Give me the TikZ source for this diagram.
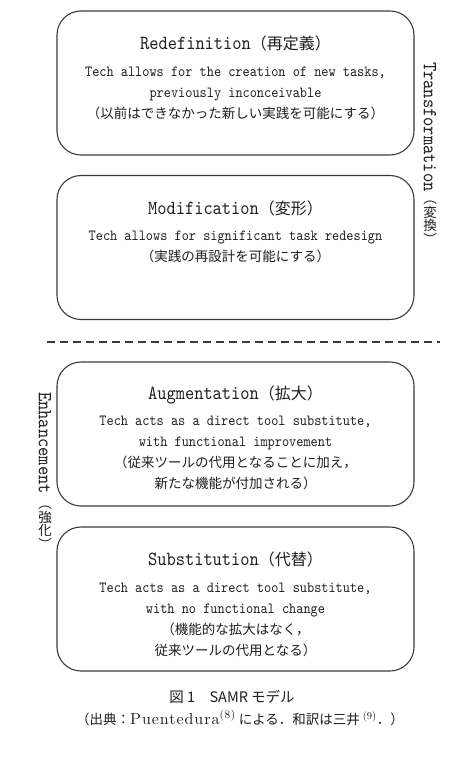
\documentclass[tikz,border=0pt]{standalone}
\usepackage{fontspec}
\newfontfamily\jp{Noto Sans CJK JP}
\newfontfamily\mono{lmmono10-regular.otf}[FakeStretch=0.88]
\newfontfamily\wideserif{lmroman10-regular.otf}[LetterSpace=6]
\usepackage{tikz}
\usetikzlibrary{positioning}
\definecolor{BoxLine}{HTML}{3A3A3A}
\definecolor{InkGray}{HTML}{1E1E1E}

\begin{document}
\begin{tikzpicture}[
  x=1pt, y=-1pt,
  every node/.style={text=InkGray},
  stage/.style={draw=BoxLine, line width=1.1pt, rounded corners=24pt,
    minimum width=357pt, minimum height=144pt, inner sep=0pt},
  stagetitle/.style={font=\fontsize{20}{22}\selectfont\mono, inner sep=0pt},
  stagebody/.style={font=\fontsize{15.5}{21}\selectfont\mono, align=center,
    inner sep=0pt, anchor=north},
  sidelabel/.style={font=\fontsize{20}{20}\selectfont\mono, rotate=-90,
    anchor=west, inner sep=0pt},
  sidejp/.style={font=\fontsize{13.5}{13.5}\selectfont\jp, align=center,
    anchor=north, inner sep=0pt},
  caption/.style={font=\fontsize{14.5}{16}\selectfont\jp, inner sep=0pt},
]
\useasboundingbox (0,0) rectangle (466,762);

% Boxes
\foreach \nm/\y in {redef/83, modif/247.5, augm/434, subst/599}
  \node[stage] (\nm) at (235.5,\y) {};

% Titles
\node[stagetitle] (redeftitle) at ([yshift=-33pt]redef.north)
  {Redefinition{\fontsize{16}{18}\selectfont\jp（再定義）}};
\node[stagetitle] (modiftitle) at ([yshift=-33pt]modif.north)
  {Modification{\fontsize{16}{18}\selectfont\jp（変形）}};
\node[stagetitle] (augmtitle) at ([yshift=-33pt]augm.north)
  {Augmentation{\fontsize{16}{18}\selectfont\jp（拡大）}};
\node[stagetitle] (substtitle) at ([yshift=-33pt]subst.north)
  {Substitution{\fontsize{16}{18}\selectfont\jp（代替）}};

% Descriptions
\node[stagebody] (redefbody) at ([yshift=-56pt]redef.north)
  {Tech allows for the creation of new tasks,\\
   previously inconceivable\\
   {\fontsize{13.5}{21}\selectfont\jp（以前はできなかった新しい実践を可能にする）}};
\node[stagebody] (modifbody) at ([yshift=-56pt]modif.north)
  {Tech allows for significant task redesign\\
   {\fontsize{13.5}{21}\selectfont\jp（実践の再設計を可能にする）}};
\node[stagebody] (augmbody) at ([yshift=-54.5pt]augm.north)
  {Tech acts as a direct tool substitute,\\
   with functional improvement\\
   {\fontsize{13.5}{21}\selectfont\jp（従来ツールの代用となることに加え，}\\
   {\fontsize{13.5}{21}\selectfont\jp 新たな機能が付加される）}};
\node[stagebody] (substbody) at ([yshift=-56pt]subst.north)
  {Tech acts as a direct tool substitute,\\
   with no functional change\\
   {\fontsize{13.5}{21}\selectfont\jp（機能的な拡大はなく，}\\
   {\fontsize{13.5}{21}\selectfont\jp 従来ツールの代用となる）}};

% Divider
\draw[BoxLine, line width=1.6pt, dash pattern=on 8pt off 5pt] (47,342) -- (440,342);

% Side labels
\node[sidelabel] (trans) at (430,62) {Transformation};
\node[sidejp] (transjp) at (430,201) {︵\\変\\換\\︶};
\node[sidelabel] (enh) at (45,392) {Enhancement};
\node[sidejp] (enhjp) at (45,506) {︵\\強\\化\\︶};

% Caption
\node[caption] (figcap) at (232,697) {図 1　SAMR モデル};
\node[caption, font=\fontsize{13.5}{16}\selectfont\jp] (figsrc) at (240,718)
  {（出典：{\fontsize{16}{16}\selectfont\wideserif Puentedura\textsuperscript{(8)}} による．和訳は三井 {\fontsize{15}{16}\selectfont\rmfamily\textsuperscript{(9)}}．）};

\end{tikzpicture}
\end{document}
